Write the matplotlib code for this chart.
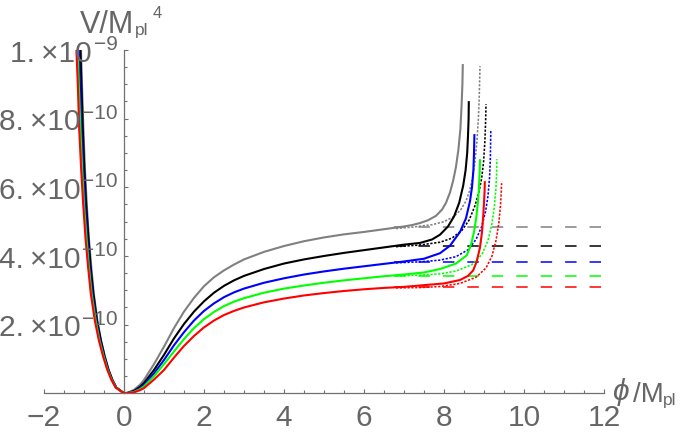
import numpy as np
import matplotlib
matplotlib.use('Agg')
import matplotlib.pyplot as plt
from matplotlib.ticker import MultipleLocator

plt.rcParams['font.family'] = ['Liberation Sans', 'DejaVu Sans']

UNIT = 1e-10  # all V values below are in units of 1e-10

# ---------------- data ----------------
colors = {'gray': '#808080', 'black': '#000000', 'blue': '#0000ff',
          'green': '#00ff00', 'red': '#ff0000'}
order = ['gray', 'black', 'blue', 'green', 'red']

# left branch (phi < 0)
V_left = [10, 9.0, 7.7, 6.5, 5.5, 4.55, 3.7, 2.9, 2.12, 1.55, 1.08, 0.69, 0.39, 0.17, 0]
phi_left_gray = [-1.075, -1.05, -1.015, -0.975, -0.93, -0.88, -0.82, -0.755, -0.665,
                 -0.575, -0.48, -0.385, -0.29, -0.19, 0]
phi_left_black = [-1.09, -1.065, -1.03, -0.99, -0.945, -0.89, -0.835, -0.765, -0.675,
                  -0.58, -0.485, -0.39, -0.29, -0.195, 0]
phi_left_blue = [-1.13, -1.10, -1.065, -1.02, -0.975, -0.92, -0.86, -0.79, -0.695,
                 -0.60, -0.50, -0.40, -0.30, -0.20, 0]
phi_left_green = [-1.16, -1.13, -1.09, -1.045, -1.0, -0.94, -0.88, -0.81, -0.71,
                  -0.615, -0.51, -0.41, -0.307, -0.205, 0]
phi_left_red = [-1.19, -1.155, -1.12, -1.07, -1.02, -0.965, -0.90, -0.83, -0.73,
                -0.63, -0.525, -0.42, -0.315, -0.21, 0]

# right branch body (solid)
phi_body = [0, 0.1, 0.25, 0.4, 0.5, 0.75, 1.0, 1.25, 1.5, 1.75, 2.0, 2.25, 2.5,
            2.75, 3.0, 3.5, 4.0, 4.5, 5.0, 5.5, 6.0, 6.5, 7.0]
V_body_gray = [0, 0.02, 0.1, 0.25, 0.39, 0.85, 1.36, 1.9, 2.38, 2.78, 3.12, 3.38,
               3.58, 3.75, 3.9, 4.12, 4.29, 4.43, 4.54, 4.63, 4.70, 4.78, 4.86]
V_body_black = [0, 0.015, 0.07, 0.19, 0.3, 0.68, 1.12, 1.6, 2.02, 2.38, 2.68, 2.93,
                3.13, 3.29, 3.42, 3.62, 3.78, 3.9, 4.0, 4.09, 4.17, 4.25, 4.33]
V_body_blue = [0, 0.01, 0.05, 0.15, 0.24, 0.58, 0.97, 1.4, 1.78, 2.12, 2.4, 2.62,
               2.8, 2.94, 3.05, 3.22, 3.35, 3.46, 3.55, 3.63, 3.7, 3.77, 3.84]
V_body_green = [0, 0.01, 0.04, 0.12, 0.2, 0.5, 0.85, 1.22, 1.58, 1.9, 2.16, 2.37,
                2.54, 2.67, 2.77, 2.93, 3.05, 3.14, 3.22, 3.29, 3.35, 3.41, 3.46]
V_body_red = [0, 0.008, 0.03, 0.09, 0.15, 0.4, 0.68, 1.04, 1.38, 1.67, 1.92, 2.12,
              2.28, 2.4, 2.5, 2.65, 2.76, 2.85, 2.92, 2.98, 3.03, 3.07, 3.1]

# right branch steep rise (solid)
phi_rise_gray = [7.2, 7.4, 7.6, 7.8, 7.95, 8.05, 8.15, 8.23, 8.3, 8.36, 8.41, 8.44, 8.46, 8.47]
V_rise_gray = [4.9, 4.96, 5.04, 5.17, 5.35, 5.55, 5.85, 6.2, 6.6, 7.1, 7.7, 8.4, 9.0, 9.56]
phi_rise_black = [7.4, 7.7, 7.9, 8.1, 8.25, 8.38, 8.48, 8.54, 8.58, 8.6, 8.615, 8.62]
V_rise_black = [4.38, 4.48, 4.62, 4.86, 5.15, 5.55, 6.05, 6.5, 7.0, 7.5, 8.0, 8.48]
phi_rise_blue = [7.5, 7.9, 8.15, 8.4, 8.55, 8.65, 8.7, 8.735, 8.75, 8.76]
V_rise_blue = [3.92, 4.08, 4.3, 4.7, 5.1, 5.6, 6.0, 6.5, 7.0, 7.52]
phi_rise_green = [7.5, 7.9, 8.3, 8.57, 8.68, 8.75, 8.81, 8.85, 8.875, 8.89, 8.9]
V_rise_green = [3.52, 3.62, 3.78, 4.02, 4.35, 4.7, 5.15, 5.6, 6.0, 6.4, 6.79]
phi_rise_red = [7.5, 8.0, 8.4, 8.6, 8.73, 8.82, 8.9, 8.95, 8.98, 9.0, 9.015, 9.02]
V_rise_red = [3.15, 3.2, 3.3, 3.42, 3.58, 3.85, 4.25, 4.7, 5.15, 5.55, 5.9, 6.15]

# dotted curves
phi_dot_gray = [6.8, 7.2, 7.7, 8.0, 8.25, 8.42, 8.55, 8.64, 8.71, 8.77, 8.82, 8.86, 8.88, 8.9]
V_dot_gray = [4.8, 4.84, 4.91, 5.0, 5.15, 5.35, 5.6, 5.9, 6.25, 6.7, 7.3, 8.0, 8.6, 9.53]
phi_dot_black = [6.8, 7.4, 7.9, 8.2, 8.45, 8.63, 8.77, 8.87, 8.94, 8.99, 9.02, 9.04, 9.05]
V_dot_black = [4.27, 4.32, 4.4, 4.52, 4.75, 5.05, 5.45, 5.85, 6.25, 6.75, 7.3, 7.9, 8.42]
phi_dot_blue = [6.8, 7.4, 7.9, 8.3, 8.6, 8.8, 8.94, 9.04, 9.1, 9.14, 9.16, 9.17]
V_dot_blue = [3.8, 3.83, 3.88, 3.98, 4.18, 4.48, 4.85, 5.3, 5.75, 6.3, 6.9, 7.65]
phi_dot_green = [6.8, 7.4, 7.9, 8.3, 8.7, 8.95, 9.1, 9.2, 9.26, 9.3, 9.315, 9.32]
V_dot_green = [3.42, 3.44, 3.48, 3.56, 3.75, 4.05, 4.45, 4.95, 5.45, 6.0, 6.4, 6.82]
phi_dot_red = [6.8, 7.4, 7.9, 8.4, 8.8, 9.05, 9.2, 9.3, 9.37, 9.41, 9.43, 9.44]
V_dot_red = [3.07, 3.08, 3.11, 3.2, 3.38, 3.65, 4.0, 4.45, 4.95, 5.45, 5.8, 6.12]

# dashed asymptotes
V_asym = {'gray': 4.85, 'black': 4.30, 'blue': 3.83, 'green': 3.43, 'red': 3.09}
phi_asym = [6.75, 12.0]

x_ticks = [-2, 0, 2, 4, 6, 8, 10, 12]
x_ticklabels = ['\u22122', '0', '2', '4', '6', '8', '10', '12']
y_ticks = [2, 4, 6, 8, 10]
y_tick_mant = ['2.', '4.', '6.', '8.', '1.']
y_tick_exp = ['\u221210', '\u221210', '\u221210', '\u221210', '\u22129']

# ---------------- figure ----------------
W, H = 681, 433
fig = plt.figure(figsize=(W / 100, H / 100), dpi=100)
ax = fig.add_axes([44 / W, (H - 393.3) / H, 560 / W, 343.3 / H])
ax.set_xlim(-2, 12)
ax.set_ylim(0, 10 * UNIT)

axcol = '#707070'
txtcol = '#666666'
for s in ['top', 'right']:
    ax.spines[s].set_visible(False)
ax.spines['left'].set_position(('data', 0))
ax.spines['bottom'].set_position(('data', 0))
for s in ['left', 'bottom']:
    ax.spines[s].set_color(axcol)
    ax.spines[s].set_linewidth(0.9)

ax.set_xticks(x_ticks)
ax.set_yticks([v * UNIT for v in y_ticks])
ax.xaxis.set_minor_locator(MultipleLocator(0.5))
ax.yaxis.set_minor_locator(MultipleLocator(0.5 * UNIT))
ax.tick_params(which='both', direction='in', color=axcol, width=0.8,
               labelbottom=False, labelleft=False)
ax.tick_params(which='major', length=3.2)
ax.tick_params(which='minor', length=2.2)

data = {
    'gray': (phi_left_gray, V_body_gray, phi_rise_gray, V_rise_gray, phi_dot_gray, V_dot_gray),
    'black': (phi_left_black, V_body_black, phi_rise_black, V_rise_black, phi_dot_black, V_dot_black),
    'blue': (phi_left_blue, V_body_blue, phi_rise_blue, V_rise_blue, phi_dot_blue, V_dot_blue),
    'green': (phi_left_green, V_body_green, phi_rise_green, V_rise_green, phi_dot_green, V_dot_green),
    'red': (phi_left_red, V_body_red, phi_rise_red, V_rise_red, phi_dot_red, V_dot_red),
}

for name in order:
    c = colors[name]
    pl, vb, pr, vr, pd, vd = data[name]
    x = list(pl) + list(phi_body[1:]) + list(pr)
    y = list(V_left) + list(vb[1:]) + list(vr)
    ax.plot(x, np.array(y) * UNIT, color=c, lw=1.5, solid_joinstyle='round', zorder=3)
    ax.plot(pd, np.array(vd) * UNIT, color=c, lw=1.15, dashes=(1.4, 1.0), zorder=2)
    ax.plot(phi_asym, [V_asym[name] * UNIT] * 2, color=c, lw=1.1,
            dashes=(7.5, 8.5), zorder=2)

# tick labels
for v, lab in zip(x_ticks, x_ticklabels):
    ax.annotate(lab, xy=(v, 0), xycoords='data', xytext=(0, -23.3),
                textcoords='offset points', ha='center', va='baseline',
                fontsize=21.5, color=txtcol, annotation_clip=False)

for v, m, e in zip(y_ticks, y_tick_mant, y_tick_exp):
    right = -23.0 if e == '\u22129' else -31.0
    ax.annotate(m + '\u2009\u00d710', xy=(0, v * UNIT), xycoords='data',
                xytext=(right, -8.3), textcoords='offset points',
                ha='right', va='baseline', fontsize=21.5, color=txtcol,
                annotation_clip=False)
    ax.annotate(e, xy=(0, v * UNIT), xycoords='data', xytext=(-4.3, 0),
                textcoords='offset points', ha='right', va='baseline',
                fontsize=15, color=txtcol, annotation_clip=False)

# axis labels
ax.annotate('V/M', xy=(0, 10 * UNIT), xycoords='data', xytext=(-31.7, 12.0),
            textcoords='offset points', ha='left', va='baseline', fontsize=22,
            color=txtcol, annotation_clip=False)
ax.annotate('pl', xy=(0, 10 * UNIT), xycoords='data', xytext=(8.2, 10.8),
            textcoords='offset points', ha='left', va='baseline', fontsize=12.5,
            color=txtcol, annotation_clip=False)
ax.annotate('4', xy=(0, 10 * UNIT), xycoords='data', xytext=(20.9, 22.8),
            textcoords='offset points', ha='left', va='baseline', fontsize=12,
            color=txtcol, annotation_clip=False)

ax.annotate('\u03d5', xy=(12, 0), xycoords='data', xytext=(5.5, -4.5),
            textcoords='offset points', ha='left', va='baseline', fontsize=21.5,
            color=txtcol, style='italic', annotation_clip=False)
ax.annotate('/M', xy=(12, 0), xycoords='data', xytext=(21.2, -6.0),
            textcoords='offset points', ha='left', va='baseline', fontsize=20,
            color=txtcol, annotation_clip=False)
ax.annotate('pl', xy=(12, 0), xycoords='data', xytext=(42.6, -8.5),
            textcoords='offset points', ha='left', va='baseline', fontsize=12.5,
            color=txtcol, annotation_clip=False)

fig.savefig('out.png', dpi=100)
